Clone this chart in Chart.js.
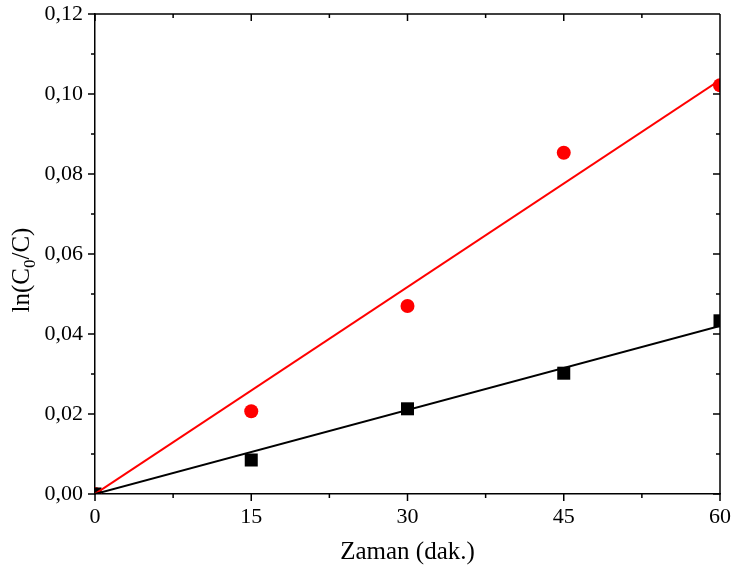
<!DOCTYPE html>
<html>
<head>
<meta charset="utf-8">
<title>ln(C0/C) - Zaman</title>
<script src="https://cdn.jsdelivr.net/npm/chart.js@4/dist/chart.umd.min.js"></script>
<style>
  html, body { margin: 0; padding: 0; background: #fff; }
  #wrap { width: 732px; height: 569px; }
</style>
</head>
<body>
<div id="wrap"><canvas id="chart" width="732" height="569"></canvas></div>
<script>
// data
const times = [0, 15, 30, 45, 60];
const blackValues = [0, 0.0085, 0.0213, 0.0302, 0.0433];
const redValues = [0, 0.0207, 0.0470, 0.0853, 0.1022];
const fitX = [0, 60];
const blackFit = [0, 0.0420];
const redFit = [0, 0.1035];
const xTicks = [0, 15, 30, 45, 60];
const yTicks = [0, 0.02, 0.04, 0.06, 0.08, 0.10, 0.12];

const toPoints = (xs, ys) => xs.map((x, i) => ({ x: x, y: ys[i] }));
const serif = '"Liberation Serif", "DejaVu Serif", serif';

// minor + mirrored ticks, top/right frame, y title with subscript
const framePlugin = {
    id: 'frame',
    afterDraw(chart) {
        const ctx = chart.ctx;
        const a = chart.chartArea;
        const xs = chart.scales.x, ys = chart.scales.y;
        ctx.save();
        ctx.strokeStyle = '#000';
        ctx.lineWidth = 1.5;
        ctx.beginPath();
        ctx.moveTo(a.left, a.top); ctx.lineTo(a.right, a.top);
        ctx.moveTo(a.right, a.top); ctx.lineTo(a.right, a.bottom);
        // x ticks
        for (let v = 0; v <= 60; v += 7.5) {
            const px = xs.getPixelForValue(v);
            const major = v % 15 === 0;
            const len = major ? 7 : 4;
            ctx.moveTo(px, a.bottom); ctx.lineTo(px, a.bottom + len);
            ctx.moveTo(px, a.top); ctx.lineTo(px, a.top + len);
        }
        // y ticks
        for (let k = 0; k <= 12; k++) {
            const v = k * 0.01;
            const py = ys.getPixelForValue(v);
            const major = k % 2 === 0;
            const len = major ? 7 : 4;
            ctx.moveTo(a.left, py); ctx.lineTo(a.left - len, py);
            ctx.moveTo(a.right, py); ctx.lineTo(a.right - len, py);
        }
        ctx.stroke();

        // y axis title ln(C0/C)
        ctx.translate(29, 270);
        ctx.rotate(-Math.PI / 2);
        ctx.fillStyle = '#000';
        ctx.textBaseline = 'alphabetic';
        const big = '25px ' + serif, small = '17px ' + serif;
        ctx.font = big;
        const w1 = ctx.measureText('ln(C').width;
        const w3 = ctx.measureText('/C)').width;
        ctx.font = small;
        const w2 = ctx.measureText('0').width;
        let x0 = -(w1 + w2 + w3) / 2;
        ctx.font = big;
        ctx.fillText('ln(C', x0, 0);
        ctx.font = small;
        ctx.fillText('0', x0 + w1, 6);
        ctx.font = big;
        ctx.fillText('/C)', x0 + w1 + w2, 0);
        ctx.restore();
    }
};

new Chart(document.getElementById('chart'), {
    type: 'scatter',
    data: {
        datasets: [
            {
                label: 'fit black', type: 'line', data: toPoints(fitX, blackFit),
                borderColor: '#000', borderWidth: 2, pointRadius: 0, fill: false, clip: 0, order: 1
            },
            {
                label: 'fit red', type: 'line', data: toPoints(fitX, redFit),
                borderColor: '#ff0000', borderWidth: 2, pointRadius: 0, fill: false, clip: 0, order: 1
            },
            {
                label: 'black', data: toPoints(times, blackValues),
                pointStyle: 'rect', pointRadius: 9.2, backgroundColor: '#000', borderWidth: 0, clip: 0, order: 2
            },
            {
                label: 'red', data: toPoints(times, redValues),
                pointStyle: 'circle', pointRadius: 7, backgroundColor: '#ff0000', borderWidth: 0, clip: 0, order: 2
            }
        ]
    },
    options: {
        responsive: false,
        animation: false,
        layout: { padding: { top: 14, right: 12, left: 0, bottom: 0 } },
        plugins: { legend: { display: false }, tooltip: { enabled: false } },
        scales: {
            x: {
                type: 'linear', min: 0, max: 60,
                grid: { display: false },
                border: { display: true, color: '#000', width: 1.5 },
                afterBuildTicks: (s) => { s.ticks = xTicks.map(v => ({ value: v })); },
                afterFit: (s) => { s.height = 75; s.paddingLeft = 0; s.paddingRight = 0; },
                ticks: {
                    color: '#000', padding: 2, maxRotation: 0,
                    font: { family: serif, size: 22 },
                    callback: (v) => String(v)
                },
                title: {
                    display: true, text: 'Zaman (dak.)', color: '#000',
                    font: { family: serif, size: 25 }, padding: { top: 0, bottom: 2 }
                }
            },
            y: {
                type: 'linear', min: 0, max: 0.12,
                grid: { display: false },
                border: { display: true, color: '#000', width: 1.5 },
                afterBuildTicks: (s) => { s.ticks = yTicks.map(v => ({ value: v })); },
                afterFit: (s) => { s.width = 95; s.paddingTop = 0; s.paddingBottom = 0; },
                ticks: {
                    color: '#000', padding: 4,
                    font: { family: serif, size: 22 },
                    callback: (v) => Number(v).toFixed(2).replace('.', ',')
                }
            }
        }
    },
    plugins: [framePlugin]
});
</script>
</body>
</html>
